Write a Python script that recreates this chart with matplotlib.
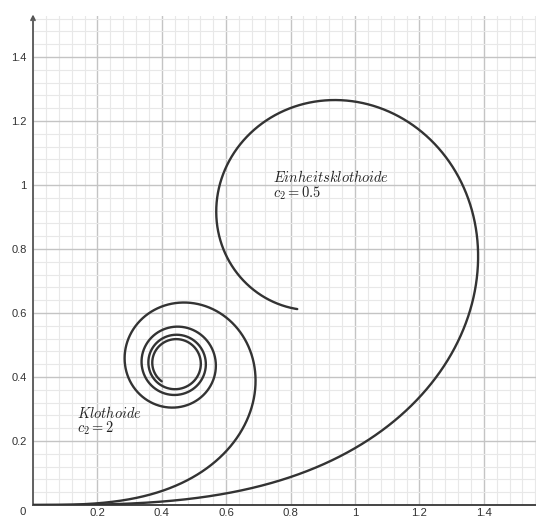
import numpy as np
import matplotlib
matplotlib.use("Agg")
import matplotlib.pyplot as plt
from matplotlib.ticker import MultipleLocator

plt.rcParams["mathtext.fontset"] = "cm"

# Clothoid parameters: tangent angle theta(s) = c2 * s^2
c2_values = [0.5, 2.0]
s_end = [3.50, 3.50]
curve_names = ["Einheitsklothoide", "Klothoide"]
label_pos = [(0.745, 1.009), (0.137, 0.272)]

x_ticks = [0.2, 0.4, 0.6, 0.8, 1.0, 1.2, 1.4]
x_tick_labels = ["0.2", "0.4", "0.6", "0.8", "1", "1.2", "1.4"]
y_ticks = [0.2, 0.4, 0.6, 0.8, 1.0, 1.2, 1.4]
y_tick_labels = ["0.2", "0.4", "0.6", "0.8", "1", "1.2", "1.4"]

W, H = 536, 516
fig = plt.figure(figsize=(W / 100, H / 100), dpi=100)
x0_px, y0_px, top_px = 33, 505, 16
ax = fig.add_axes([x0_px / W, (H - y0_px) / H, (W - x0_px) / W, (y0_px - top_px) / H])
ax.set_xlim(0, (W - x0_px) / 322)
ax.set_ylim(0, (y0_px - top_px) / 320)

for sp in ax.spines.values():
    sp.set_visible(False)

ax.xaxis.set_major_locator(MultipleLocator(0.2))
ax.yaxis.set_major_locator(MultipleLocator(0.2))
ax.xaxis.set_minor_locator(MultipleLocator(0.04))
ax.yaxis.set_minor_locator(MultipleLocator(0.04))
ax.grid(which="minor", color="#e8e8e8", lw=0.8, zorder=0)
ax.grid(which="major", color="#c4c4c4", lw=1.0, zorder=0.5)
ax.set_axisbelow(True)
ax.tick_params(which="both", length=0)
ax.set_xticks(x_ticks)
ax.set_xticklabels(x_tick_labels)
ax.set_yticks(y_ticks)
ax.set_yticklabels(y_tick_labels)
ax.tick_params(axis="x", pad=2.5, labelsize=8.2, labelcolor="#333333")
ax.tick_params(axis="y", pad=4.5, labelsize=8.0, labelcolor="#333333")
for lab in ax.get_xticklabels() + ax.get_yticklabels():
    lab.set_family("Liberation Sans")
ax.text(-0.031, -0.006, "0", transform=ax.transData, ha="center", va="top",
        fontsize=8.2, color="#333333", family="Liberation Sans", clip_on=False)

# axes lines with arrow on the vertical axis
ymax = ax.get_ylim()[1]
xmax = ax.get_xlim()[1]
ax.plot([0, xmax], [0, 0], color="#444444", lw=1.4, zorder=3, clip_on=False)
ax.annotate("", xy=(0, ymax + 0.005), xytext=(0, 0),
            arrowprops=dict(arrowstyle="->", color="#555555", lw=1.3,
                            shrinkA=0, shrinkB=0, mutation_scale=7),
            zorder=3, annotation_clip=False)


def clothoid(c, s_max, n=6000):
    s = np.linspace(0.0, s_max, n)
    theta = c * s ** 2
    ds = s[1] - s[0]
    dx = np.cos(theta)
    dy = np.sin(theta)
    x = np.concatenate([[0.0], np.cumsum(0.5 * (dx[1:] + dx[:-1]) * ds)])
    y = np.concatenate([[0.0], np.cumsum(0.5 * (dy[1:] + dy[:-1]) * ds)])
    return x, y


for c, smax, name, (lx, ly) in zip(c2_values, s_end, curve_names, label_pos):
    x, y = clothoid(c, smax)
    ax.plot(x, y, color="#333333", lw=1.7, zorder=4, solid_capstyle="round")
    ax.text(lx, ly, rf"${name}$", fontsize=10.4, color="#222222", va="baseline", ha="left", zorder=5)
    cval = f"{c:g}"
    ax.text(lx, ly - 0.047, rf"$c_2 = {cval}$", fontsize=10.4, color="#222222",
            va="baseline", ha="left", zorder=5)

fig.savefig("out.png", dpi=100)
